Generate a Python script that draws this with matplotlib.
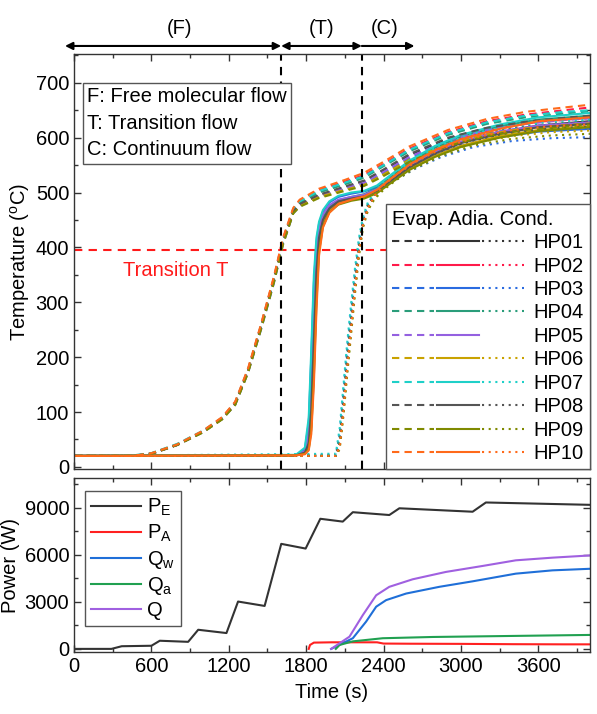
import matplotlib
matplotlib.use('Agg')
import matplotlib.pyplot as plt
from matplotlib.legend_handler import HandlerTuple
from matplotlib.lines import Line2D
from matplotlib.ticker import MultipleLocator

plt.rcParams['font.family'] = ['Liberation Sans', 'DejaVu Sans']
plt.rcParams['mathtext.default'] = 'regular'

# ---------------- data ----------------
hp_names = ['HP01', 'HP02', 'HP03', 'HP04', 'HP05', 'HP06', 'HP07', 'HP08', 'HP09', 'HP10']
hp_colors = ['#333333', '#ff1a4a', '#2a6be0', '#2a9d7a', '#9460e0',
             '#c9a200', '#1fd0c8', '#555555', '#7f8a00', '#ff6a1a']

t_evap = [0, 450, 600, 800, 1000, 1150, 1250, 1350, 1450, 1550, 1620, 1700, 1750,
          1900, 2100, 2250, 2400, 2600, 2900, 3200, 3500, 3800, 4000]
evap = {
    'HP01': [20, 20, 24, 40, 64, 88, 115, 175, 255, 340, 410, 465, 478, 495, 510, 520, 540, 568, 598, 617, 628, 635, 638],
    'HP02': [20, 20, 24, 41, 65, 90, 118, 178, 258, 345, 415, 470, 485, 505, 520, 532, 552, 580, 610, 630, 642, 650, 655],
    'HP03': [20, 20, 24, 40, 63, 87, 113, 172, 250, 335, 405, 462, 475, 492, 506, 515, 535, 562, 590, 608, 618, 624, 627],
    'HP04': [20, 20, 25, 41, 65, 89, 116, 176, 256, 342, 412, 468, 482, 500, 515, 527, 548, 575, 605, 625, 637, 644, 648],
    'HP05': [20, 20, 24, 40, 64, 88, 115, 174, 254, 340, 409, 464, 477, 494, 508, 518, 538, 565, 595, 614, 625, 632, 635],
    'HP06': [20, 20, 24, 40, 63, 87, 114, 173, 252, 338, 407, 463, 476, 492, 505, 514, 533, 560, 588, 606, 617, 623, 626],
    'HP07': [20, 21, 25, 42, 66, 90, 118, 178, 258, 344, 414, 470, 484, 503, 518, 530, 550, 578, 608, 628, 640, 647, 650],
    'HP08': [20, 20, 24, 40, 64, 88, 115, 175, 254, 340, 410, 465, 479, 496, 511, 522, 542, 570, 600, 618, 629, 636, 640],
    'HP09': [20, 20, 24, 40, 63, 87, 113, 172, 251, 336, 405, 462, 474, 490, 503, 512, 530, 556, 585, 603, 614, 620, 624],
    'HP10': [20, 20, 25, 41, 66, 91, 119, 180, 260, 347, 417, 472, 487, 507, 523, 536, 556, 584, 614, 634, 647, 655, 660],
}

t_adia = [0, 1720, 1790, 1820, 1840, 1860, 1880, 1900, 1930, 1980, 2050, 2150, 2250,
          2350, 2450, 2600, 2800, 3000, 3300, 3600, 4000]
adia = {
    'HP01': [20, 21, 26, 45, 110, 240, 360, 420, 452, 472, 484, 490, 494, 505, 522, 548, 573, 592, 610, 622, 630],
    'HP02': [20, 21, 25, 40, 95, 215, 345, 412, 448, 470, 483, 489, 494, 506, 525, 552, 578, 598, 617, 629, 636],
    'HP03': [20, 21, 32, 80, 200, 335, 410, 443, 465, 482, 492, 498, 502, 510, 524, 545, 567, 585, 601, 611, 616],
    'HP04': [20, 21, 27, 50, 125, 260, 375, 425, 455, 474, 486, 492, 497, 508, 527, 555, 582, 602, 621, 633, 640],
    'HP05': [20, 21, 29, 62, 160, 300, 395, 435, 460, 477, 487, 492, 496, 506, 523, 549, 574, 593, 611, 622, 628],
    'HP06': [20, 21, 24, 34, 75, 180, 315, 400, 442, 466, 480, 487, 491, 501, 518, 543, 567, 585, 603, 614, 621],
    'HP07': [20, 22, 35, 90, 215, 350, 418, 447, 468, 484, 494, 500, 503, 513, 531, 558, 585, 605, 624, 637, 645],
    'HP08': [20, 21, 26, 43, 105, 230, 355, 418, 450, 471, 484, 489, 493, 503, 520, 546, 571, 590, 607, 619, 625],
    'HP09': [20, 21, 24, 32, 68, 165, 300, 392, 438, 464, 478, 485, 489, 499, 516, 541, 565, 583, 600, 612, 619],
    'HP10': [20, 21, 23, 30, 60, 150, 285, 385, 436, 463, 479, 487, 493, 505, 524, 551, 577, 597, 616, 630, 637],
}

t_cond = [0, 2030, 2060, 2090, 2120, 2150, 2180, 2210, 2240, 2280, 2330, 2400, 2500,
          2650, 2850, 3100, 3400, 3700, 4000]
cond = {
    'HP01': [20, 20, 45, 120, 200, 270, 340, 400, 445, 475, 495, 512, 530, 552, 575, 595, 608, 615, 618],
    'HP02': [20, 20, 40, 110, 190, 262, 332, 395, 442, 474, 496, 515, 535, 558, 582, 603, 617, 624, 627],
    'HP03': [20, 22, 60, 140, 220, 290, 355, 410, 450, 478, 494, 508, 524, 544, 565, 583, 594, 599, 601],
    'HP04': [20, 21, 55, 130, 210, 280, 350, 408, 450, 480, 499, 516, 536, 559, 583, 604, 618, 626, 630],
    'HP06': [20, 20, 35, 100, 180, 252, 325, 390, 438, 470, 490, 507, 526, 548, 571, 590, 603, 610, 613],
    'HP07': [20, 24, 70, 150, 230, 300, 365, 418, 455, 483, 501, 518, 538, 562, 587, 608, 622, 630, 633],
    'HP08': [20, 20, 42, 115, 195, 265, 336, 398, 444, 475, 495, 512, 531, 553, 577, 597, 610, 617, 620],
    'HP09': [20, 20, 32, 95, 172, 245, 318, 385, 435, 468, 488, 505, 523, 545, 567, 586, 598, 604, 607],
    'HP10': [20, 20, 38, 105, 185, 258, 330, 394, 441, 473, 494, 513, 533, 556, 580, 600, 614, 621, 624],
}

transition_T = 395
regime_bounds = [1606, 2232]

# power
t_PE = [0, 290, 370, 600, 665, 885, 963, 1182, 1272, 1478, 1607, 1796, 1910, 2084, 2162,
        2445, 2523, 3091, 3194, 4000]
P_E = [0, 0, 170, 200, 520, 450, 1220, 1010, 3020, 2740, 6700, 6400, 8300, 8120, 8720,
       8540, 8970, 8750, 9340, 9190]
t_PA = [1820, 1830, 1860, 2000, 2200, 2350, 2400, 2600, 3000, 3400, 3800, 4000]
P_A = [0, 250, 400, 420, 420, 420, 340, 330, 320, 300, 290, 290]
t_Qw = [1994, 2084, 2162, 2265, 2343, 2420, 2575, 2833, 3091, 3426, 3710, 4000]
Q_w = [0, 360, 680, 1740, 2690, 3110, 3530, 3960, 4310, 4800, 5010, 5110]
t_Qa = [2030, 2059, 2162, 2394, 2781, 4000]
Q_a = [0, 250, 480, 680, 760, 890]
t_Q = [1994, 2136, 2239, 2343, 2445, 2626, 2884, 3168, 3426, 3710, 4000]
Q = [0, 780, 2150, 3420, 3960, 4440, 4910, 5290, 5650, 5820, 5960]

# ---------------- figure ----------------
FS = 14.5
fig = plt.figure(figsize=(5.97, 7.14), dpi=100)
ax1 = fig.add_axes([0.124, 0.343, 0.864, 0.581])
ax2 = fig.add_axes([0.124, 0.0868, 0.864, 0.2437])

dash = (0, (3.5, 2.5))
dot = (0, (1, 2.2))
lw = 1.5
handles = []
for name, col in zip(hp_names, hp_colors):
    ax1.plot(t_evap, evap[name], color=col, ls=dash, lw=lw)
    ax1.plot(t_adia, adia[name], color=col, ls='-', lw=lw)
    if name in cond:
        ax1.plot(t_cond, cond[name], color=col, ls=dot, lw=lw)
        h3 = Line2D([], [], color=col, ls=dot, lw=lw)
    else:
        h3 = Line2D([], [], color='none', lw=0)
    handles.append((Line2D([], [], color=col, ls=dash, lw=lw),
                    Line2D([], [], color=col, ls='-', lw=lw), h3))

ax1.axhline(transition_T, color='#ff1a1a', ls=(0, (4, 3)), lw=1.5, zorder=1)
ax1.text(785, 358, 'Transition T', color='#ff1a1a', ha='center', va='center', fontsize=FS)
for xb in regime_bounds:
    ax1.axvline(xb, color='black', ls=(0, (4, 3)), lw=1.5)

ax1.text(0.026, 0.92, 'F: Free molecular flow\nT: Transition flow\nC: Continuum flow',
         transform=ax1.transAxes, va='top', ha='left', fontsize=FS, linespacing=1.5,
         bbox=dict(boxstyle='square,pad=0.22', fc='white', ec='#555555', lw=1))

leg = ax1.legend(handles, hp_names, handler_map={tuple: HandlerTuple(ndivide=3, pad=0.15)},
                 loc='lower right', bbox_to_anchor=(1, 0), borderaxespad=0,
                 title='Evap. Adia. Cond.', alignment='left', handlelength=6.6,
                 fancybox=False, edgecolor='#555555', framealpha=1, fontsize=FS,
                 title_fontsize=FS, labelspacing=0.22, handletextpad=0.45, borderpad=0.3)
leg.get_frame().set_linewidth(1)
leg.set_zorder(5)

# regime arrows above the axes
xt = ax1.get_xaxis_transform()
arrow_y = 1.02
ax1.annotate('', xy=(regime_bounds[0], arrow_y), xytext=(-70, arrow_y), xycoords=xt,
             arrowprops=dict(arrowstyle='<|-|>', color='black', lw=1.5, mutation_scale=11,
                             shrinkA=0, shrinkB=0), annotation_clip=False)
ax1.annotate('', xy=(regime_bounds[1], arrow_y), xytext=(regime_bounds[0], arrow_y), xycoords=xt,
             arrowprops=dict(arrowstyle='<|-|>', color='black', lw=1.5, mutation_scale=11,
                             shrinkA=0, shrinkB=0), annotation_clip=False)
ax1.annotate('', xy=(2640, arrow_y), xytext=(regime_bounds[1], arrow_y), xycoords=xt,
             arrowprops=dict(arrowstyle='-|>', color='black', lw=1.5, mutation_scale=11,
                             shrinkA=0, shrinkB=0), annotation_clip=False)
for lab, xx in [('(F)', 820), ('(T)', 1920), ('(C)', 2407)]:
    ax1.text(xx, 1.062, lab, transform=xt, ha='center', va='center', fontsize=FS)

ax1.set_xlim(0, 4000)
ax1.set_ylim(-4, 752)
ax1.set_ylabel('Temperature ($^o$C)', fontsize=FS, labelpad=3)
ax1.yaxis.set_major_locator(MultipleLocator(100))
ax1.yaxis.set_minor_locator(MultipleLocator(50))
ax1.xaxis.set_major_locator(MultipleLocator(600))
ax1.xaxis.set_minor_locator(MultipleLocator(300))
ax1.tick_params(labelbottom=False)

# power
ax2.plot(t_PE, P_E, color='#333333', lw=lw, label='P$_E$')
ax2.plot(t_PA, P_A, color='#ff2020', lw=lw, label='P$_A$')
ax2.plot(t_Qw, Q_w, color='#1f6fd8', lw=lw, label='Q$_w$')
ax2.plot(t_Qa, Q_a, color='#20a050', lw=lw, label='Q$_a$')
ax2.plot(t_Q, Q, color='#a060e0', lw=lw, label='Q')
leg2 = ax2.legend(loc='upper left', bbox_to_anchor=(0.021, 0.925), borderaxespad=0,
                  fancybox=False, edgecolor='#555555', framealpha=1, fontsize=FS,
                  handlelength=2.5, labelspacing=0.22, handletextpad=0.3, borderpad=0.3)
leg2.get_frame().set_linewidth(1)
ax2.set_xlim(0, 4000)
ax2.set_ylim(-200, 10900)
ax2.set_xlabel('Time (s)', fontsize=FS, labelpad=5)
ax2.set_ylabel('Power (W)', fontsize=FS, labelpad=3)
ax2.xaxis.set_major_locator(MultipleLocator(600))
ax2.xaxis.set_minor_locator(MultipleLocator(300))
ax2.yaxis.set_major_locator(MultipleLocator(3000))
ax2.yaxis.set_minor_locator(MultipleLocator(1500))

for ax in (ax1, ax2):
    ax.tick_params(which='both', direction='in', top=True, right=True, labelsize=FS,
                   color='#333333')
    ax.tick_params(which='major', length=5, width=1)
    ax.tick_params(which='minor', length=3, width=1)
    for s in ax.spines.values():
        s.set_color('#333333')
        s.set_linewidth(1)

fig.savefig('out.png', dpi=100)
